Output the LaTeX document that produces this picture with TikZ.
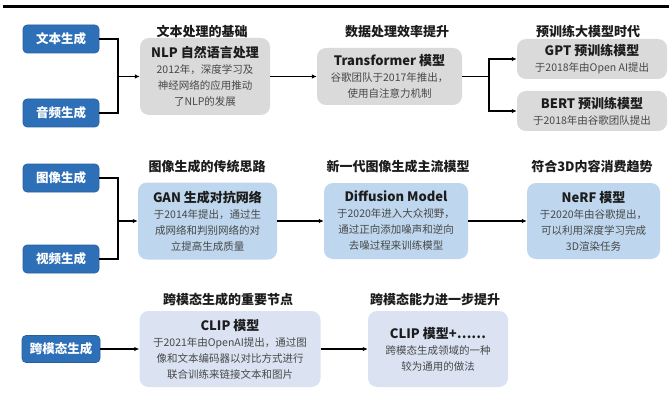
\documentclass[tikz,border=0pt]{standalone}
\usepackage{fontspec}
\setmainfont{Noto Sans CJK SC}
\usetikzlibrary{arrows.meta}
\definecolor{btnblue}{RGB}{46,112,183}
\definecolor{cardgray}{RGB}{218,218,218}
\definecolor{cardblue}{RGB}{190,215,238}
\definecolor{cardlav}{RGB}{219,227,243}
\definecolor{bodytxt}{RGB}{72,72,72}
\definecolor{headtxt}{RGB}{28,28,28}
\newcommand\hd[1]{{\fontsize{13}{19}\selectfont\bfseries\color{headtxt}#1}}
\tikzset{
  btn/.style={draw=btnblue!85!black, line width=0.6pt, fill=btnblue, rounded corners=4pt, text=white,
    font=\fontsize{12.5}{14}\selectfont\bfseries, minimum width=76pt, minimum height=28pt, inner sep=0pt},
  card/.style={rounded corners=9pt, align=center, inner sep=0pt, text=bodytxt,
    font=\fontsize{10.5}{16}\selectfont},
  graycard/.style={card, fill=cardgray},
  bluecard/.style={card, fill=cardblue},
  lavcard/.style={card, fill=cardlav},
  ttl/.style={font=\fontsize{13}{15}\selectfont\bfseries, text=headtxt, inner sep=0pt},
  ln/.style={line width=1.2pt},
  arr/.style={line width=1.2pt, -{Latex[length=5pt,width=4.5pt]}},
}
\begin{document}
\begin{tikzpicture}[x=1pt,y=-1pt]
\useasboundingbox (0,0) rectangle (669,401);
\fill[white] (0,0) rectangle (669,401);
\draw[line width=2.2pt] (3,6.5) -- (669,6.5);

% row 1
\node[btn] (t1) at (61,39) {文本生成};
\node[btn] (a1) at (61,113) {音频生成};
\node[ttl] (tt1) at (202,32) {文本处理的基础};
\node[graycard, minimum width=130pt, minimum height=77pt] (nlp) at (205,76.5)
  {\hd{NLP 自然语言处理}\\2012年，深度学习及\\神经网络的应用推动\\了NLP的发展};
\node[ttl] (tt2) at (397,32) {数据处理效率提升};
\node[graycard, minimum width=145pt, minimum height=57pt] (tf) at (389.5,76.5)
  {\hd{Transformer 模型}\\谷歌团队于2017年推出，\\使用自注意力机制};
\node[ttl] (tt3) at (588,32) {预训练大模型时代};
\node[graycard, minimum width=150pt, minimum height=40pt] (gpt) at (592,59)
  {\hd{GPT 预训练模型}\\于2018年由Open AI提出};
\node[graycard, minimum width=150pt, minimum height=40pt] (bert) at (592,111)
  {\hd{BERT 预训练模型}\\于2018年由谷歌团队提出};

\coordinate (j1) at (118,76.5);
\draw[ln] (t1.east) -| (j1);
\draw[ln] (a1.east) -| (j1);
\draw[arr] (j1) -- (nlp.west);
\draw[arr] (nlp.east) -- (tf.west);
\coordinate (j2) at (489,76.5);
\draw[ln] (tf.east) -- (j2);
\draw[arr] (j2) |- (gpt.west);
\draw[arr] (j2) |- (bert.west);

% row 2
\node[btn] (img) at (61,178) {图像生成};
\node[btn] (vid) at (61,259) {视频生成};
\node[ttl] (tt4) at (207,167) {图像生成的传统思路};
\node[bluecard, minimum width=139pt, minimum height=77pt] (gan) at (207.5,221)
  {\hd{GAN 生成对抗网络}\\于2014年提出，通过生\\成网络和判别网络的对\\立提高生成质量};
\node[ttl] (tt5) at (398,167) {新一代图像生成主流模型};
\node[bluecard, minimum width=144pt, minimum height=76pt] (dif) at (396,221)
  {\hd{Diffusion Model}\\于2020年进入大众视野，\\通过正向添加噪声和逆向\\去噪过程来训练模型};
\node[ttl] (tt6) at (592,167) {符合3D内容消费趋势};
\node[bluecard, minimum width=133pt, minimum height=76pt] (nerf) at (593.5,221)
  {\hd{NeRF 模型}\\于2020年由谷歌提出，\\可以利用深度学习完成\\3D渲染任务};

\coordinate (j3) at (118,221);
\draw[ln] (img.east) -| (j3);
\draw[ln] (vid.east) -| (j3);
\draw[arr] (j3) -- (gan.west);
\draw[arr] (gan.east) -- (dif.west);
\draw[arr] (dif.east) -- (nerf.west);

% row 3
\node[btn, minimum width=78pt, minimum height=27pt] (cm) at (61,349) {跨模态生成};
\node[ttl] (tt7) at (228,300) {跨模态生成的重要节点};
\node[lavcard, minimum width=181pt, minimum height=76pt] (clip) at (230,349)
  {\hd{CLIP 模型}\\于2021年由OpenAI提出，通过图\\像和文本编码器以对比方式进行\\联合训练来链接文本和图片};
\node[ttl] (tt8) at (435,300) {跨模态能力进一步提升};
\node[lavcard, minimum width=140pt, minimum height=76pt] (clipp) at (438,349)
  {\hd{CLIP 模型+……}\\跨模态生成领域的一种\\较为通用的做法};

\draw[arr] (cm.east) -- (clip.west);
\draw[arr] (clip.east) -- (clipp.west);
\end{tikzpicture}
\end{document}
